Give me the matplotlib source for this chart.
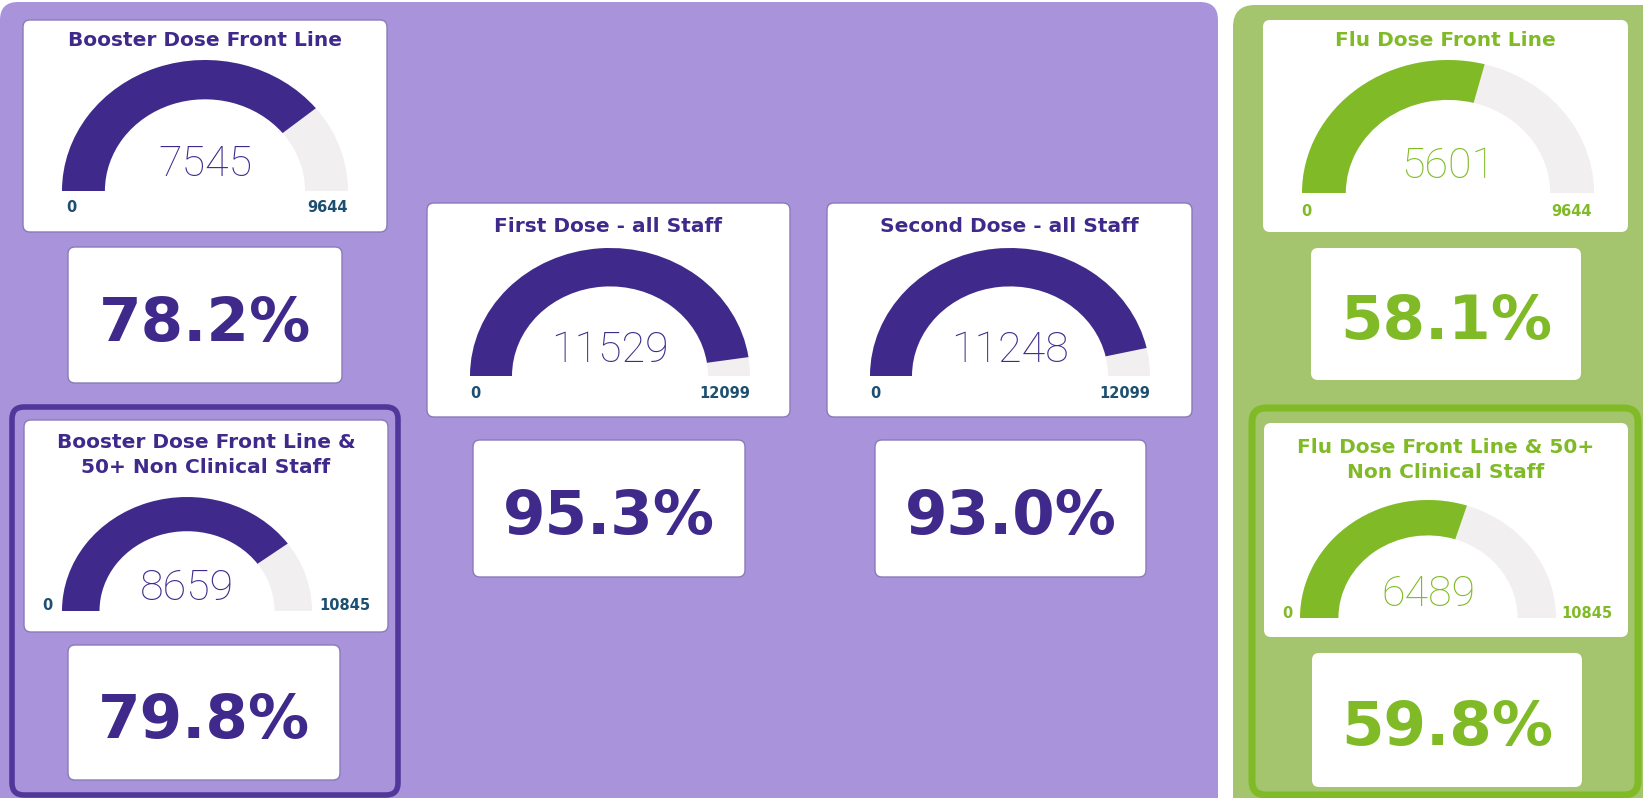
import matplotlib
matplotlib.use("Agg")
import matplotlib.pyplot as plt
from matplotlib.patches import FancyBboxPatch, Wedge

W, H = 1643, 798

# data
titles = ["Booster Dose Front Line",
          "Booster Dose Front Line &\n50+ Non Clinical Staff",
          "First Dose - all Staff",
          "Second Dose - all Staff",
          "Flu Dose Front Line",
          "Flu Dose Front Line & 50+\nNon Clinical Staff"]
values = [7545, 8659, 11529, 11248, 5601, 6489]
maxima = [9644, 10845, 12099, 12099, 9644, 10845]
groups = ["covid", "covid", "covid", "covid", "flu", "flu"]

# colours
purple_bg = "#a994dc"
purple_dark = "#3f2a8c"
purple_edge = "#52379a"
green_bg = "#a4c46d"
green_main = "#80bb27"
gray_rest = "#f1efef"
label_blue = "#1d4f73"

# layout in pixels: card box (x0, y0, x1, y1), gauge (cx, base_y, rx, ry), title y, pct box
cards = [(23, 20, 387, 232), (24, 420, 388, 632), (427, 203, 790, 417),
         (827, 203, 1192, 417), (1263, 20, 1628, 232), (1264, 423, 1628, 637)]
gauges = [(205, 191, 143, 131), (187, 611, 125, 114), (610, 376, 140, 128),
          (1010, 376, 140, 128), (1448, 193, 146, 133), (1428, 618, 128, 118)]
title_y = [41, 455, 227, 227, 41, 460]
label_x = [(66, 348), (42, 370), (470, 750), (870, 1150), (1301, 1592), (1282, 1612)]
label_y = [207, 605, 393, 393, 211, 613]
pct_boxes = [(68, 247, 342, 383), (68, 645, 340, 780), (473, 440, 745, 577),
             (875, 440, 1146, 577), (1311, 248, 1581, 380), (1312, 653, 1582, 787)]

fig = plt.figure(figsize=(W / 100, H / 100), dpi=100)
ax = fig.add_axes([0, 0, 1, 1])
ax.set_xlim(0, W)
ax.set_ylim(H, 0)
ax.axis("off")

def rbox(x0, y0, x1, y1, fc, ec="none", lw=0, r=8, z=1):
    p = FancyBboxPatch((x0 + r, y0 + r), (x1 - x0) - 2 * r, (y1 - y0) - 2 * r,
                       boxstyle=f"round,pad={r}", fc=fc, ec=ec, lw=lw, zorder=z)
    ax.add_patch(p)

# panels
rbox(0, 2, 1218, 830, purple_bg, r=18, z=0)
rbox(1233, 5, 1700, 830, green_bg, r=22, z=0)
# selected groups
rbox(12, 407, 398, 795, purple_bg, ec=purple_edge, lw=4, r=12, z=0.5)
rbox(1252, 408, 1638, 795, green_bg, ec=green_main, lw=5, r=14, z=0.5)

font_bold = "DejaVu Sans"
for i in range(6):
    main = purple_dark if groups[i] == "covid" else green_main
    lab = label_blue if groups[i] == "covid" else green_main
    edge = "#8a7bb8" if groups[i] == "covid" else "none"
    rbox(*cards[i], "white", ec=edge, lw=1, r=7, z=2)
    rbox(*pct_boxes[i], "white", ec=edge, lw=1, r=7, z=2)

    cx = (cards[i][0] + cards[i][2]) / 2
    ax.text(cx, title_y[i], titles[i], ha="center", va="center", fontsize=14.5,
            fontweight="bold", color=main, family=font_bold, linespacing=1.45, zorder=3)

    # gauge in its own axes, stretched to ellipse
    gx, gy, rx, ry = gauges[i]
    gax = fig.add_axes([(gx - rx) / W, 1 - gy / H, 2 * rx / W, ry / H])
    gax.set_xlim(-1, 1)
    gax.set_ylim(0, 1)
    gax.axis("off")
    frac = values[i] / maxima[i]
    gax.add_patch(Wedge((0, 0), 1, 0, 180, width=0.3, fc=gray_rest, ec="none"))
    gax.add_patch(Wedge((0, 0), 1, 180 - 180 * frac, 180, width=0.3, fc=main, ec="none"))
    gax.text(0, 0.2, f"{values[i]}", ha="center", va="center", fontsize=31,
             family="Roboto", fontweight="light", color=main)

    ax.text(label_x[i][0], label_y[i], "0", ha="left", va="center", fontsize=10.5,
            fontweight="bold", color=lab, family=font_bold, zorder=3)
    ax.text(label_x[i][1], label_y[i], f"{maxima[i]}", ha="right", va="center",
            fontsize=10.5, fontweight="bold", color=lab, family=font_bold, zorder=3)

    px = (pct_boxes[i][0] + pct_boxes[i][2]) / 2
    py = (pct_boxes[i][1] + pct_boxes[i][3]) / 2 + 9
    ax.text(px, py, f"{100 * frac:.1f}%", ha="center", va="center", fontsize=44,
            fontweight="bold", color=main, family=font_bold, zorder=3)

fig.savefig("out.png", dpi=100)
